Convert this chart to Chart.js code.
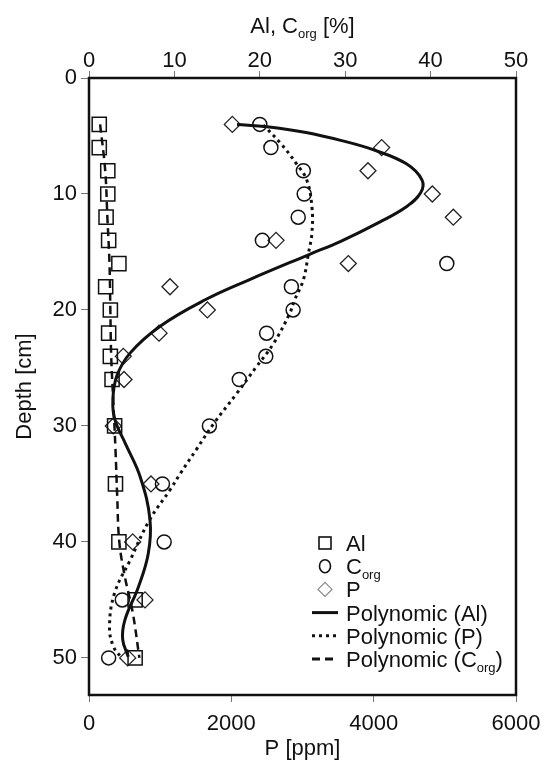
<!DOCTYPE html>
<html>
<head>
<meta charset="utf-8">
<script src="https://cdn.jsdelivr.net/npm/chart.js@4/dist/chart.umd.min.js"></script>
<style>
  html, body { margin: 0; padding: 0; background: #fff; }
  #wrap { width: 545px; height: 762px; }
</style>
</head>
<body>
<div id="wrap"><canvas id="depthChart"></canvas></div>
<script>
// measured samples
const depths = [4, 6, 8, 10, 12, 14, 16, 18, 20, 22, 24, 26, 30, 35, 40, 45, 50];
const alValues = [1.2, 1.2, 2.2, 2.2, 2.0, 2.3, 3.5, 1.95, 2.5, 2.3, 2.5, 2.7, 3.0, 3.1, 3.5, 5.4, 5.4];
const corgValues = [20.0, 21.3, 25.1, 25.2, 24.5, 20.3, 41.9, 23.7, 23.9, 20.8, 20.7, 17.6, 14.1, 8.6, 8.8, 3.9, 2.3];
const pValues = [2014, 4112, 3920, 4824, 5119, 2628, 3644, 1138, 1663, 984, 482, 492, 342, 871, 614, 787, 544];

// trend lines
const trendPDepths = [4.0, 4.2, 4.7, 5.4, 6.2, 7.4, 8.8, 9.9, 11.1, 12.4, 14.1, 15.2, 17.4, 19.1, 21.4, 23.7, 25.7, 27.8, 29.5, 31.5, 34.4, 38.1, 41.0, 43.9, 46.7, 48.4, 49.9];
const trendPValues = [2080, 2500, 3050, 3550, 4000, 4460, 4680, 4660, 4460, 4090, 3530, 3100, 2250, 1640, 1000, 580, 390, 335, 365, 510, 720, 857, 833, 693, 506, 473, 552];
const trendCorgDepths = [4.05, 5.6, 7.4, 8.8, 11.1, 13.4, 15.1, 17.4, 19.1, 20.3, 22.9, 24.9, 27.2, 29.8, 32.0, 34.1, 35.5, 38.1, 41.6, 44.4, 47.3, 49.0, 50.0];
const trendCorgValues = [20.4, 22.4, 24.3, 25.5, 26.1, 26.1, 25.7, 25.1, 24.1, 23.5, 21.6, 19.6, 17.3, 14.6, 12.6, 10.7, 9.5, 7.1, 4.8, 3.0, 2.4, 2.85, 3.8];
const trendAlDepths = [4, 8, 12, 16, 20, 24, 28, 32, 36, 40, 43, 46, 50];
const trendAlValues = [1.3, 1.9, 2.15, 2.4, 2.5, 2.6, 2.85, 3.1, 3.3, 3.55, 4.2, 5.1, 5.9];

const depthTicks = [0, 10, 20, 30, 40, 50];

const FONT = "'Liberation Sans', Arial, sans-serif";

function pairs(xs, ys) {
    return xs.map((v, i) => ({ x: v, y: ys[i] }));
}

// text with an "org" style subscript part
function drawParts(ctx, parts, x, y, align) {
    const big = '22px ' + FONT;
    const small = '13px ' + FONT;
    let total = 0;
    parts.forEach(p => {
        ctx.font = p.sub ? small : big;
        total += ctx.measureText(p.t).width;
    });
    let cx = align === 'center' ? x - total / 2 : x;
    ctx.textAlign = 'left';
    ctx.textBaseline = 'alphabetic';
    parts.forEach(p => {
        ctx.font = p.sub ? small : big;
        ctx.fillText(p.t, cx, p.sub ? y + 5 : y);
        cx += ctx.measureText(p.t).width;
    });
}

const legendItems = [
    { kind: 'rect', parts: [{ t: 'Al' }] },
    { kind: 'circle', parts: [{ t: 'C' }, { t: 'org', sub: true }] },
    { kind: 'diamond', parts: [{ t: 'P' }] },
    { kind: 'line', dash: [], width: 3, parts: [{ t: 'Polynomic (Al)' }] },
    { kind: 'line', dash: [3, 4], width: 3, parts: [{ t: 'Polynomic (P)' }] },
    { kind: 'line', dash: [8, 5], width: 3, parts: [{ t: 'Polynomic (C' }, { t: 'org', sub: true }, { t: ')' }] }
];

const extrasPlugin = {
    id: 'extras',
    afterDraw(chart) {
        const ctx = chart.ctx;
        const a = chart.chartArea;
        ctx.save();
        // frame
        ctx.strokeStyle = '#111';
        ctx.lineWidth = 2.5;
        ctx.strokeRect(a.left, a.top, a.right - a.left, a.bottom - a.top);

        // top axis title
        ctx.fillStyle = '#111';
        drawParts(ctx, [{ t: 'Al, C' }, { t: 'org', sub: true }, { t: ' [%]' }], (a.left + a.right) / 2, 33, 'center');

        // legend
        const mx = 325, tx = 346;
        legendItems.forEach((item, i) => {
            const y = 543 + i * 23.2;
            ctx.setLineDash([]);
            ctx.strokeStyle = '#111';
            ctx.lineWidth = 1.6;
            if (item.kind === 'rect') {
                ctx.strokeRect(mx - 6, y - 6, 12, 12);
            } else if (item.kind === 'circle') {
                ctx.beginPath();
                ctx.ellipse(mx, y, 5.5, 6.5, 0, 0, Math.PI * 2);
                ctx.stroke();
            } else if (item.kind === 'diamond') {
                ctx.strokeStyle = '#888';
                ctx.lineWidth = 1.2;
                ctx.beginPath();
                ctx.moveTo(mx, y - 7);
                ctx.lineTo(mx + 7, y);
                ctx.lineTo(mx, y + 7);
                ctx.lineTo(mx - 7, y);
                ctx.closePath();
                ctx.stroke();
            } else {
                ctx.lineWidth = item.width;
                ctx.setLineDash(item.dash);
                ctx.beginPath();
                ctx.moveTo(mx - 13, y);
                ctx.lineTo(mx + 13, y);
                ctx.stroke();
            }
            ctx.setLineDash([]);
            ctx.fillStyle = '#111';
            drawParts(ctx, item.parts, tx, y + 8, 'left');
        });
        ctx.restore();
    }
};

const plainTick = (v) => String(v);

// keep the plot frame where the reference has it
function fixHeight(h) {
    return (scale) => {
        scale.height = h;
        scale.paddingLeft = 0;
        scale.paddingRight = 0;
    };
}

const ctx = document.getElementById('depthChart');
new Chart(ctx, {
    type: 'scatter',
    data: {
        datasets: [
            {
                label: 'Polynomic (Al)',
                data: pairs(trendPValues, trendPDepths),
                xAxisID: 'x',
                showLine: true,
                borderColor: '#111',
                borderWidth: 3,
                pointRadius: 0,
                tension: 0.4,
                order: 0
            },
            {
                label: 'Polynomic (P)',
                data: pairs(trendCorgValues, trendCorgDepths),
                xAxisID: 'x2',
                showLine: true,
                borderColor: '#111',
                borderWidth: 3,
                borderDash: [3, 4],
                pointRadius: 0,
                tension: 0.4,
                order: 0
            },
            {
                label: 'Polynomic (Corg)',
                data: pairs(trendAlValues, trendAlDepths),
                xAxisID: 'x2',
                showLine: true,
                borderColor: '#111',
                borderWidth: 2.5,
                borderDash: [8, 5],
                pointRadius: 0,
                tension: 0.4,
                order: 0
            },
            {
                label: 'Al',
                data: pairs(alValues, depths),
                xAxisID: 'x2',
                pointStyle: 'rect',
                pointRadius: 10,
                borderColor: '#111',
                borderWidth: 1.5,
                backgroundColor: 'rgba(0,0,0,0)',
                order: 1
            },
            {
                label: 'Corg',
                data: pairs(corgValues, depths),
                xAxisID: 'x2',
                pointStyle: 'circle',
                pointRadius: 7,
                borderColor: '#111',
                borderWidth: 1.5,
                backgroundColor: 'rgba(0,0,0,0)',
                order: 1
            },
            {
                label: 'P',
                data: pairs(pValues, depths),
                xAxisID: 'x',
                pointStyle: 'rectRot',
                pointRadius: 8,
                borderColor: '#222',
                borderWidth: 1.3,
                backgroundColor: '#fff',
                order: 1
            }
        ]
    },
    options: {
        responsive: true,
        maintainAspectRatio: false,
        animation: false,
        layout: { padding: { left: 0, right: 29, top: 0, bottom: 0 } },
        plugins: {
            legend: { display: false },
            tooltip: { enabled: false }
        },
        scales: {
            x: {
                type: 'linear',
                position: 'bottom',
                min: 0,
                max: 6000,
                ticks: { stepSize: 2000, callback: plainTick, color: '#111', font: { family: FONT, size: 22 }, padding: 9, maxRotation: 0 },
                grid: { drawOnChartArea: false, drawTicks: true, tickLength: 7, color: '#777' },
                border: { display: false },
                title: { display: true, text: 'P [ppm]', color: '#111', font: { family: FONT, size: 22 }, padding: { top: 0, bottom: 0 } },
                afterFit: fixHeight(67)
            },
            x2: {
                type: 'linear',
                position: 'top',
                min: 0,
                max: 50,
                ticks: { stepSize: 10, callback: plainTick, color: '#111', font: { family: FONT, size: 22 }, padding: -3, maxRotation: 0 },
                grid: { drawOnChartArea: false, drawTicks: true, tickLength: 7, color: '#777' },
                border: { display: false },
                afterFit: fixHeight(78)
            },
            y: {
                type: 'linear',
                reverse: true,
                min: 0,
                max: 53.2,
                afterBuildTicks: (scale) => { scale.ticks = depthTicks.map(v => ({ value: v })); },
                ticks: { color: '#111', font: { family: FONT, size: 22 }, padding: 4 },
                grid: { drawOnChartArea: false, drawTicks: true, tickLength: 8, color: '#777' },
                border: { display: false },
                title: { display: true, text: 'Depth [cm]', color: '#111', font: { family: FONT, size: 22 }, padding: { top: 12, bottom: 4 } },
                afterFit: (scale) => { scale.width = 89; }
            }
        }
    },
    plugins: [extrasPlugin]
});
</script>
</body>
</html>
